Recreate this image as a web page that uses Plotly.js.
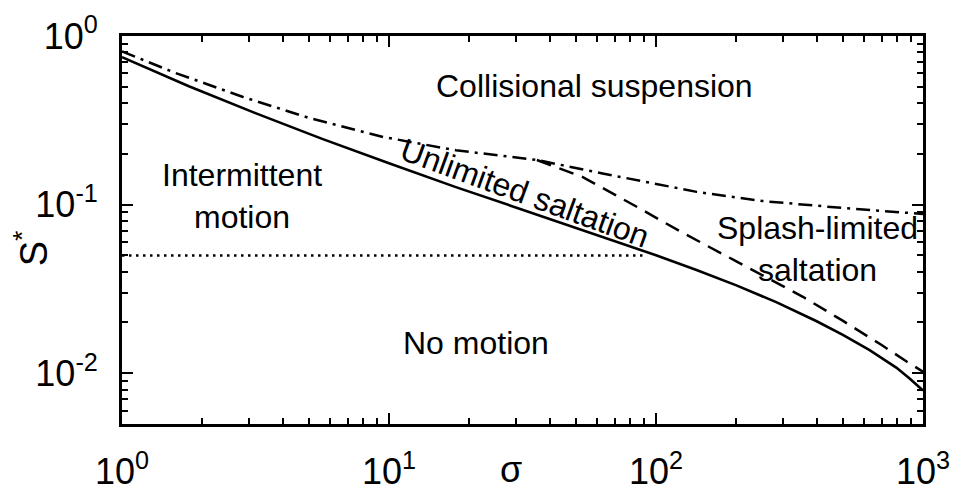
<!DOCTYPE html>
<html>
<head>
<meta charset="utf-8">
<script src="https://cdn.plot.ly/plotly-3.0.1.min.js"></script>
<style>
  html, body { margin: 0; padding: 0; background: #fff; }
  #chart { width: 954px; height: 491px; }
</style>
</head>
<body>
<div id="chart"></div>
<script>
// Solid: threshold for motion
const solidSigma = [1, 1.78, 3.16, 5.62, 10, 17.8, 31.6, 56.2, 100, 141, 200, 282, 398, 501, 631, 794, 891, 1000];
const solidS     = [0.75, 0.504, 0.349, 0.2455, 0.176, 0.127, 0.0933, 0.0686, 0.0501, 0.0411, 0.0332, 0.0264, 0.0204, 0.0169, 0.0137, 0.0108, 0.0093, 0.0079];

// Dash-dot: suspension boundary
const dashdotSigma = [1, 1.58, 2.84, 5.01, 9.5, 17.8, 35.8, 63.1, 142, 251, 501, 950, 1000];
const dashdotS     = [0.81, 0.605, 0.435, 0.327, 0.252, 0.21, 0.184, 0.153, 0.119, 0.105, 0.0955, 0.0893, 0.088];

// Dashed: splash-limited boundary
const dashSigma = [35.8, 53, 85, 126, 200, 355, 500, 700, 871, 1000];
const dashS     = [0.184, 0.146, 0.0968, 0.068, 0.0461, 0.0284, 0.0205, 0.0147, 0.0117, 0.0102];

// Dotted: static threshold
const dotSigma = [1, 90];
const dotS     = [0.05, 0.05];

// Tick labels
const xTickVals = [1, 10, 100, 1000];
const xTickText = ['10<sup>0</sup>', '10<sup>1</sup>', '10<sup>2</sup>', '10<sup>3</sup>'];
const yTickVals = [0.01, 0.1, 1];
const yTickText = ['10<sup>-2</sup>', '10<sup>-1</sup>', '10<sup>0</sup>'];

function minorVals(d0, d1) {
  const out = [];
  for (let d = d0; d < d1; d++) {
    for (let k = 2; k <= 9; k++) out.push(k * Math.pow(10, d));
  }
  return out;
}

const FONT = 'Liberation Sans, Arial, Helvetica, sans-serif';

const traces = [
  { x: dotSigma, y: dotS, mode: 'lines', line: { color: '#000', width: 2.5, dash: '2.5px,4.5px' }, hoverinfo: 'skip' },
  { x: dashdotSigma, y: dashdotS, mode: 'lines', line: { color: '#000', width: 2.5, dash: '14px,6px,3px,6px' }, hoverinfo: 'skip' },
  { x: dashSigma, y: dashS, mode: 'lines', line: { color: '#000', width: 2.5, dash: '15px,9px' }, hoverinfo: 'skip' },
  { x: solidSigma, y: solidS, mode: 'lines', line: { color: '#000', width: 2.6 }, hoverinfo: 'skip' }
];

const axisCommon = {
  type: 'log',
  showgrid: false,
  zeroline: false,
  showline: true,
  linecolor: '#000',
  linewidth: 3,
  mirror: 'allticks',
  ticks: 'inside',
  ticklen: 11,
  tickwidth: 2,
  tickcolor: '#000',
  tickmode: 'array',
  tickfont: { family: FONT, size: 36, color: '#000' }
};

function label(text, x, y, extra) {
  return Object.assign({
    text: text, xref: 'paper', yref: 'paper', x: x, y: y,
    xanchor: 'center', yanchor: 'middle', showarrow: false,
    font: { family: FONT, size: 32, color: '#000' }
  }, extra || {});
}

const layout = {
  width: 954,
  height: 491,
  margin: { l: 122, r: 31, t: 36, b: 67 },
  paper_bgcolor: '#fff',
  plot_bgcolor: '#fff',
  showlegend: false,
  font: { family: FONT, color: '#000' },
  xaxis: Object.assign({}, axisCommon, {
    range: [0, 3],
    tickvals: xTickVals,
    ticktext: xTickText,
    ticklabelstandoff: 14,
    minor: { tickmode: 'array', tickvals: minorVals(0, 3), ticks: 'inside', ticklen: 6, tickwidth: 2, tickcolor: '#000', showgrid: false }
  }),
  yaxis: Object.assign({}, axisCommon, {
    range: [Math.log10(0.005), 0],
    tickvals: yTickVals,
    ticktext: yTickText,
    ticklabelstandoff: 14,
    minor: { tickmode: 'array', tickvals: minorVals(-3, 0).filter(v => v >= 0.005), ticks: 'inside', ticklen: 6, tickwidth: 2, tickcolor: '#000', showgrid: false }
  }),
  annotations: [
    label('Collisional suspension', 0.5905, 0.871),
    label('Intermittent<br>motion', 0.150, 0.588),
    label('Unlimited saltation', 0.503, 0.595, { textangle: 20 }),
    label('Splash-limited<br>saltation', 0.868, 0.451),
    label('No motion', 0.442, 0.209),
    label('σ', 0.486, 0, { yshift: -45, font: { family: FONT, size: 36, color: '#000' } }),
    label('S<sup>*</sup>', -0.114, 0.452, { textangle: -90, font: { family: FONT, size: 38, color: '#000' } })
  ]
};

Plotly.newPlot('chart', traces, layout, { staticPlot: true, displayModeBar: false });
</script>
</body>
</html>
